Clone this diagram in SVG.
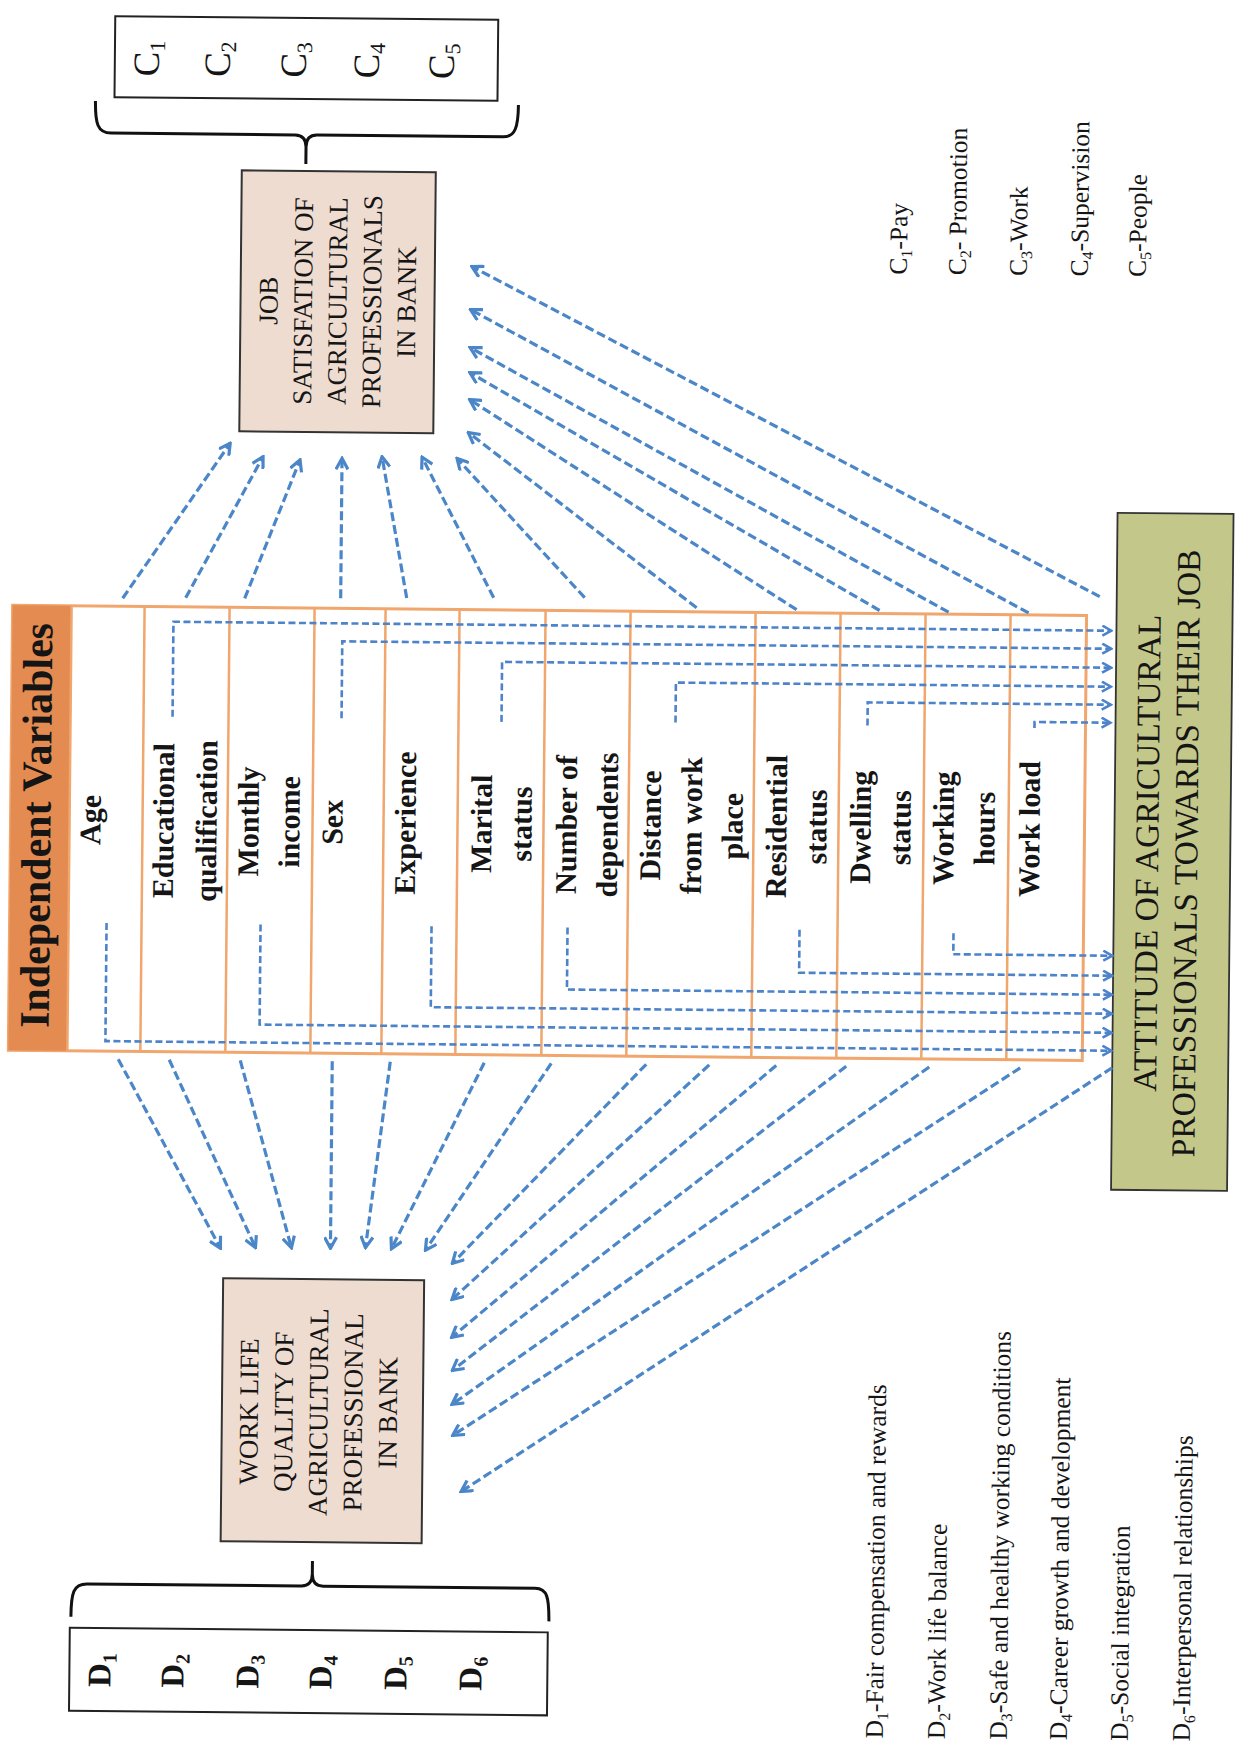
<svg xmlns="http://www.w3.org/2000/svg" width="1235" height="1761" viewBox="0 0 1235 1761">
<style>
.t{font-family:"Liberation Serif","Times New Roman",serif;fill:#151515}
.lb{font-weight:bold;font-size:30px}
.hd{font-weight:bold;font-size:42px}
.bx{font-size:27px}
.gt{font-size:33.5px}
.lg{font-size:25.5px}
.cl{font-size:37px}
.dl{font-size:33px;font-weight:bold}
.conn{fill:none;stroke:#4A86C8;stroke-width:3.2;stroke-dasharray:9 4;marker-end:url(#ah)}
.inner{fill:none;stroke:#4C83CA;stroke-width:2.6;stroke-dasharray:7 3.5;marker-end:url(#ah2)}
.div{stroke:#F0A66C;stroke-width:2.5}
.brace{fill:none;stroke:#111;stroke-width:3}
</style>
<defs>
<marker id="ah" viewBox="0 0 14 14" refX="12" refY="7" markerWidth="14" markerHeight="14" markerUnits="userSpaceOnUse" orient="auto"><path d="M1,1 L12,7 L1,13" fill="none" stroke="#4A86C8" stroke-width="3.2"/></marker>
<marker id="ah2" viewBox="0 0 12 12" refX="10" refY="6" markerWidth="12" markerHeight="12" markerUnits="userSpaceOnUse" orient="auto"><path d="M1,1 L10,6 L1,11" fill="none" stroke="#4C83CA" stroke-width="2.6"/></marker>
</defs>
<rect x="0" y="0" width="1235" height="1761" fill="#ffffff"/>
<g transform="rotate(0.55 617 880)">

<g id="node-c-box">
<rect x="107" y="21" width="383" height="81" fill="#ffffff" stroke="#222" stroke-width="2"/>
<text class="t cl" text-anchor="middle" transform="translate(151,63) rotate(-90)">C<tspan font-size="22" dy="6">1</tspan></text>
<text class="t cl" text-anchor="middle" transform="translate(222,63) rotate(-90)">C<tspan font-size="22" dy="6">2</tspan></text>
<text class="t cl" text-anchor="middle" transform="translate(298,63) rotate(-90)">C<tspan font-size="22" dy="6">3</tspan></text>
<text class="t cl" text-anchor="middle" transform="translate(371,63) rotate(-90)">C<tspan font-size="22" dy="6">4</tspan></text>
<text class="t cl" text-anchor="middle" transform="translate(446,63) rotate(-90)">C<tspan font-size="22" dy="6">5</tspan></text>
</g>

<g id="brace-c">
<path class="brace" d="M88,106 C88,128 90,138 104,138 L288,138 C295,138 299,142 299,150 L299,167 M299,150 C299,142 303,138 310,138 L496,138 C508,138 511,128 511,106"/>
</g>

<g id="node-job">
<rect x="235" y="174" width="194" height="261" fill="#EFDCD0" stroke="#333" stroke-width="2"/>
<text class="t bx" text-anchor="middle" transform="translate(272,304) rotate(-90)"><tspan x="0" y="0">JOB</tspan><tspan x="0" dy="34.5">SATISFATION OF</tspan><tspan x="0" dy="34.5">AGRICULTURAL</tspan><tspan x="0" dy="34.5">PROFESSIONALS</tspan><tspan x="0" dy="34.5">IN BANK</tspan></text>
</g>

<g id="legend-c">
<text class="t lg" transform="translate(901,272) rotate(-90)">C<tspan font-size="16" dy="5">1</tspan><tspan dy="-5">-Pay</tspan></text>
<text class="t lg" transform="translate(960,272) rotate(-90)">C<tspan font-size="16" dy="5">2</tspan><tspan dy="-5">- Promotion</tspan></text>
<text class="t lg" transform="translate(1021,272) rotate(-90)">C<tspan font-size="16" dy="5">3</tspan><tspan dy="-5">-Work</tspan></text>
<text class="t lg" transform="translate(1082,272) rotate(-90)">C<tspan font-size="16" dy="5">4</tspan><tspan dy="-5">-Supervision</tspan></text>
<text class="t lg" transform="translate(1140,272) rotate(-90)">C<tspan font-size="16" dy="5">5</tspan><tspan dy="-5">-People</tspan></text>
</g>

<g id="node-independent-variables">
<rect x="10" y="611" width="1074" height="445" fill="#ffffff" stroke="#F0A66C" stroke-width="3"/>
<rect x="10" y="611" width="59" height="445" fill="#E38B50"/>
<text class="t hd" text-anchor="middle" transform="translate(50,831) rotate(-90)">Independent Variables</text>
<line class="div" x1="69" y1="611" x2="69" y2="1056"/>
<line class="div" x1="142" y1="611" x2="142" y2="1056"/>
<line class="div" x1="227" y1="611" x2="227" y2="1056"/>
<line class="div" x1="312" y1="611" x2="312" y2="1056"/>
<line class="div" x1="383" y1="611" x2="383" y2="1056"/>
<line class="div" x1="457" y1="611" x2="457" y2="1056"/>
<line class="div" x1="543" y1="611" x2="543" y2="1056"/>
<line class="div" x1="628" y1="611" x2="628" y2="1056"/>
<line class="div" x1="753" y1="611" x2="753" y2="1056"/>
<line class="div" x1="838" y1="611" x2="838" y2="1056"/>
<line class="div" x1="923" y1="611" x2="923" y2="1056"/>
<line class="div" x1="1008" y1="611" x2="1008" y2="1056"/>
<g id="var-age"><text class="t lb" text-anchor="middle" transform="translate(100,825) rotate(-90)">Age</text></g>
<g id="var-education"><text class="t lb" text-anchor="middle" transform="translate(173,825) rotate(-90)"><tspan x="0" y="0">Educational</tspan><tspan x="0" dy="43">qualification</tspan></text></g>
<g id="var-income"><text class="t lb" text-anchor="middle" transform="translate(258,825) rotate(-90)"><tspan x="0" y="0">Monthly</tspan><tspan x="0" dy="41">income</tspan></text></g>
<g id="var-sex"><text class="t lb" text-anchor="middle" transform="translate(342,825) rotate(-90)">Sex</text></g>
<g id="var-experience"><text class="t lb" text-anchor="middle" transform="translate(415,825) rotate(-90)">Experience</text></g>
<g id="var-marital"><text class="t lb" text-anchor="middle" transform="translate(491,825) rotate(-90)"><tspan x="0" y="0">Marital</tspan><tspan x="0" dy="40">status</tspan></text></g>
<g id="var-dependents"><text class="t lb" text-anchor="middle" transform="translate(576,825) rotate(-90)"><tspan x="0" y="0">Number of</tspan><tspan x="0" dy="41">dependents</tspan></text></g>
<g id="var-distance"><text class="t lb" text-anchor="middle" transform="translate(660,825) rotate(-90)"><tspan x="0" y="0">Distance</tspan><tspan x="0" dy="41">from work</tspan><tspan x="0" dy="41">place</tspan></text></g>
<g id="var-residential"><text class="t lb" text-anchor="middle" transform="translate(786,825) rotate(-90)"><tspan x="0" y="0">Residential</tspan><tspan x="0" dy="40">status</tspan></text></g>
<g id="var-dwelling"><text class="t lb" text-anchor="middle" transform="translate(870,825) rotate(-90)"><tspan x="0" y="0">Dwelling</tspan><tspan x="0" dy="40">status</tspan></text></g>
<g id="var-hours"><text class="t lb" text-anchor="middle" transform="translate(953,825) rotate(-90)"><tspan x="0" y="0">Working</tspan><tspan x="0" dy="41">hours</tspan></text></g>
<g id="var-workload"><text class="t lb" text-anchor="middle" transform="translate(1039,825) rotate(-90)">Work load</text></g>
</g>

<g id="node-attitude">
<rect x="1114" y="508" width="116" height="677" fill="#C4C78A" stroke="#333" stroke-width="1.8"/>
<text class="t gt" text-anchor="middle" transform="translate(1158,848) rotate(-90)"><tspan x="0" y="0">ATTITUDE OF AGRICULTURAL</tspan><tspan x="0" dy="39">PROFESSIONALS TOWARDS THEIR JOB</tspan></text>
</g>

<g id="node-worklife">
<rect x="227" y="1282" width="201" height="263" fill="#EFDCD0" stroke="#333" stroke-width="2"/>
<text class="t bx" text-anchor="middle" transform="translate(263,1415) rotate(-90)"><tspan x="0" y="0">WORK LIFE</tspan><tspan x="0" dy="34.75">QUALITY OF</tspan><tspan x="0" dy="34.75">AGRICULTURAL</tspan><tspan x="0" dy="34.75">PROFESSIONAL</tspan><tspan x="0" dy="34.75">IN BANK</tspan></text>
</g>

<g id="brace-d">
<path class="brace" d="M78,1622 C78,1598 80,1589 94,1589 L308,1589 C315,1589 319,1585 319,1577 L319,1564 M319,1577 C319,1585 323,1589 330,1589 L542,1589 C554,1589 556,1598 556,1622"/>
</g>

<g id="node-d-box">
<rect x="77" y="1633" width="478" height="83" fill="#ffffff" stroke="#222" stroke-width="2"/>
<text class="t dl" text-anchor="middle" transform="translate(118,1675) rotate(-90)">D<tspan font-size="20" dy="6">1</tspan></text>
<text class="t dl" text-anchor="middle" transform="translate(191,1675) rotate(-90)">D<tspan font-size="20" dy="6">2</tspan></text>
<text class="t dl" text-anchor="middle" transform="translate(266,1675) rotate(-90)">D<tspan font-size="20" dy="6">3</tspan></text>
<text class="t dl" text-anchor="middle" transform="translate(339,1675) rotate(-90)">D<tspan font-size="20" dy="6">4</tspan></text>
<text class="t dl" text-anchor="middle" transform="translate(414,1675) rotate(-90)">D<tspan font-size="20" dy="6">5</tspan></text>
<text class="t dl" text-anchor="middle" transform="translate(489,1675) rotate(-90)">D<tspan font-size="20" dy="6">6</tspan></text>
</g>

<g id="legend-d">
<text class="t lg" transform="translate(891,1736) rotate(-90)">D<tspan font-size="16" dy="5">1</tspan><tspan dy="-5">-Fair compensation and rewards</tspan></text>
<text class="t lg" transform="translate(953,1736) rotate(-90)">D<tspan font-size="16" dy="5">2</tspan><tspan dy="-5">-Work life balance</tspan></text>
<text class="t lg" transform="translate(1015,1736) rotate(-90)">D<tspan font-size="16" dy="5">3</tspan><tspan dy="-5">-Safe and healthy working conditions</tspan></text>
<text class="t lg" transform="translate(1075,1736) rotate(-90)">D<tspan font-size="16" dy="5">4</tspan><tspan dy="-5">-Career growth and development</tspan></text>
<text class="t lg" transform="translate(1136,1736) rotate(-90)">D<tspan font-size="16" dy="5">5</tspan><tspan dy="-5">-Social integration</tspan></text>
<text class="t lg" transform="translate(1198,1736) rotate(-90)">D<tspan font-size="16" dy="5">6</tspan><tspan dy="-5">-Interpersonal relationships</tspan></text>
</g>

<g id="connectors">
<path class="conn" d="M120,603 L226,447"/>
<path class="conn" d="M183,602 L259,460"/>
<path class="conn" d="M242,602 L296,463"/>
<path class="conn" d="M338,601 L338,461"/>
<path class="conn" d="M404,600 L378,459"/>
<path class="conn" d="M491,599 L418,459"/>
<path class="conn" d="M582,598 L453,460"/>
<path class="conn" d="M694,607 L464,434"/>
<path class="conn" d="M794,608 L465,401"/>
<path class="conn" d="M877,608 L465,374"/>
<path class="conn" d="M946,609 L465,349"/>
<path class="conn" d="M1026,609 L465,311"/>
<path class="conn" d="M1097,592 L466,268"/>

<path class="conn" d="M120,1064 L224,1252"/>
<path class="conn" d="M171,1064 L259,1251"/>
<path class="conn" d="M242,1064 L295,1251"/>
<path class="conn" d="M334,1064 L334,1251"/>
<path class="conn" d="M392,1064 L369,1250"/>
<path class="conn" d="M486,1064 L395,1251"/>
<path class="conn" d="M553,1064 L429,1252"/>
<path class="conn" d="M648,1064 L456,1265"/>
<path class="conn" d="M711,1064 L456,1301"/>
<path class="conn" d="M778,1064 L456,1339"/>
<path class="conn" d="M848,1064 L457,1372"/>
<path class="conn" d="M931,1064 L457,1406"/>
<path class="conn" d="M1022,1064 L458,1437"/>
<path class="conn" d="M1114,1063 L467,1493"/>

<path class="inner" d="M171,721 V626 H1109"/>
<path class="inner" d="M340,721 V644 H1109"/>
<path class="inner" d="M500,723 V663 H1109"/>
<path class="inner" d="M674,722 V682 H1109"/>
<path class="inner" d="M866,723 V700 H1109"/>
<path class="inner" d="M1033,724 V718 H1109"/>
<path class="inner" d="M107,928 V1046 H1113"/>
<path class="inner" d="M261,928 V1028 H1113"/>
<path class="inner" d="M432,928 V1009 H1113"/>
<path class="inner" d="M568,928 V990 H1113"/>
<path class="inner" d="M800,928 V971 H1113"/>
<path class="inner" d="M954,930 V951 H1113"/>
</g>
</g>
</svg>
